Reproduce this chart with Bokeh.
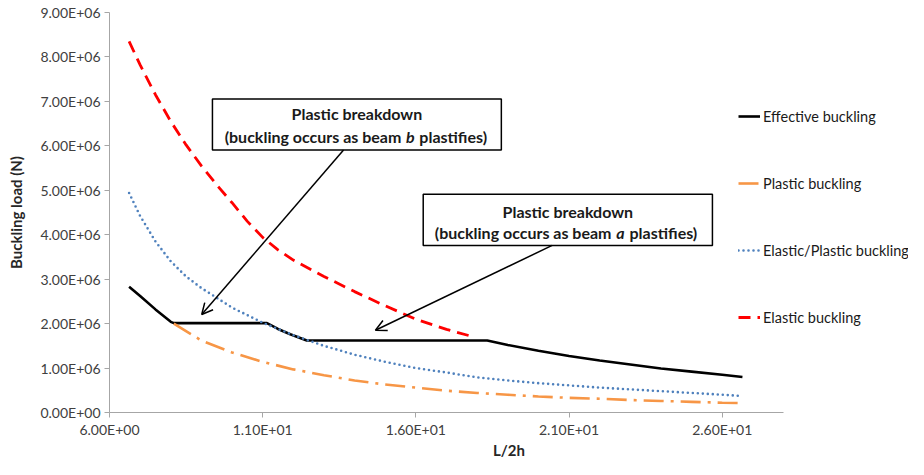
from bokeh.plotting import figure
from bokeh.models import (Legend, LegendItem, FixedTicker, BoxAnnotation, Label,
                          Arrow, OpenHead, Range1d)
from bokeh.embed import file_html
from bokeh.resources import INLINE

# ---------------- data ----------------
effective_x = [6.64, 7.0, 7.5, 8.0, 8.1, 11.14, 11.5, 11.9, 12.44, 18.33,
               19.0, 20.0, 21.0, 22.0, 23.0, 24.0, 25.0, 26.0, 26.66]
effective_y = [2.83e6, 2.62e6, 2.32e6, 2.04e6, 2.01e6, 2.01e6, 1.88e6, 1.76e6, 1.62e6, 1.62e6,
               1.52e6, 1.39e6, 1.27e6, 1.17e6, 1.08e6, 0.99e6, 0.92e6, 0.85e6, 0.80e6]

plastic_x = [8.1, 9.0, 10.0, 11.0, 12.0, 13.0, 14.0, 15.0, 16.0, 17.0, 18.0,
             19.0, 20.0, 21.0, 22.0, 23.0, 24.0, 25.0, 26.0, 26.66]
plastic_y = [2.0e6, 1.62e6, 1.35e6, 1.14e6, 0.97e6, 0.84e6, 0.72e6, 0.63e6, 0.56e6, 0.49e6, 0.44e6,
             0.40e6, 0.36e6, 0.33e6, 0.31e6, 0.28e6, 0.26e6, 0.24e6, 0.22e6, 0.21e6]

elastic_plastic_x = [6.64, 7.0, 7.5, 8.0, 8.5, 9.0, 9.5, 10.0, 11.0, 12.0, 13.0, 14.0, 15.0,
                     16.0, 17.0, 18.0, 19.0, 20.0, 21.0, 22.0, 23.0, 24.0, 25.0, 26.0, 26.66]
elastic_plastic_y = [4.94e6, 4.42e6, 3.85e6, 3.40e6, 3.06e6, 2.80e6, 2.58e6, 2.36e6, 2.02e6, 1.74e6,
                     1.50e6, 1.30e6, 1.14e6, 1.00e6, 0.90e6, 0.79e6, 0.72e6, 0.66e6, 0.61e6, 0.56e6,
                     0.52e6, 0.48e6, 0.44e6, 0.40e6, 0.37e6]

elastic_x = [6.64, 7.0, 7.5, 8.0, 8.5, 9.0, 9.5, 10.0, 10.5, 11.0, 11.5, 12.0, 13.0, 14.0,
             15.0, 16.0, 17.0, 17.94]
elastic_y = [8.35e6, 7.82e6, 7.15e6, 6.55e6, 6.02e6, 5.55e6, 5.12e6, 4.72e6, 4.30e6, 3.94e6,
             3.66e6, 3.43e6, 3.06e6, 2.72e6, 2.40e6, 2.10e6, 1.87e6, 1.69e6]

series_names = ["Effective buckling", "Plastic buckling", "Elastic/Plastic buckling", "Elastic buckling"]

x_ticks = [6, 11, 16, 21, 26]
x_tick_labels = ["6.00E+00", "1.10E+01", "1.60E+01", "2.10E+01", "2.60E+01"]
y_ticks = [0, 1000000, 2000000, 3000000, 4000000, 5000000, 6000000, 7000000, 8000000, 9000000]
y_tick_labels = ["0.00E+00", "1.00E+06", "2.00E+06", "3.00E+06", "4.00E+06",
                 "5.00E+06", "6.00E+06", "7.00E+06", "8.00E+06", "9.00E+06"]

x_label = "L/2h"
y_label = "Buckling load (N)"

# annotation callouts (data coordinates)
box_b = dict(left=9.36, right=18.79, bottom=5.907e6, top=7.053e6)
box_a = dict(left=16.24, right=25.68, bottom=3.76e6, top=4.908e6)
arrow_b = dict(x_start=13.64, y_start=5.907e6, x_end=9.01, y_end=2.205e6)
arrow_a = dict(x_start=20.45, y_start=3.76e6, x_end=14.68, y_end=1.85e6)

FONT = "Lato"

# ---------------- figure ----------------
# the frame runs to the right edge so the legend (drawn over the plot area, as in
# the original) is not clipped; the visible x axis line stops at 28
p = figure(frame_width=799, frame_height=400, output_backend="svg", toolbar_location=None,
           x_range=Range1d(6, 32.08), y_range=Range1d(0, 9000000),
           min_border_left=109, min_border_right=0, min_border_top=12, min_border_bottom=30)
p.outline_line_color = None
p.border_fill_color = "white"
p.grid.visible = False
p.background_fill_color = "white"

r_eff = p.line(effective_x, effective_y, line_color="black", line_width=2.6)
r_pla = p.line(plastic_x, plastic_y, line_color="#F79646", line_width=2.6, line_dash="20 7 3 7")
r_ep = p.line(elastic_plastic_x, elastic_plastic_y, line_color="#4F81BD", line_width=2.6,
              line_dash="0 5", line_cap="round")
r_el = p.line(elastic_x, elastic_y, line_color="#FF0000", line_width=2.8, line_dash="12 7")

# axes
for ax, ticks, labels in ((p.xaxis, x_ticks, x_tick_labels), (p.yaxis, y_ticks, y_tick_labels)):
    ax.ticker = FixedTicker(ticks=ticks)
    ax.major_label_overrides = {t: l for t, l in zip(ticks, labels)}
    ax.axis_line_color = "#a6a6a6"
    ax.major_tick_line_color = "#a6a6a6"
    ax.major_tick_out = 5
    ax.major_tick_in = 0
    ax.minor_tick_out = 0
    ax.minor_tick_in = 0
    ax.major_label_text_font = FONT
    ax.major_label_text_font_size = "14px"
    ax.major_label_text_color = "#404040"
    ax.axis_label_text_font = FONT
    ax.axis_label_text_font_size = "15px"
    ax.axis_label_text_font_style = "bold"
    ax.axis_label_text_color = "#262626"

p.xaxis.bounds = (6, 28)
p.xaxis.axis_label = x_label
p.yaxis.axis_label = y_label
p.xaxis.major_label_standoff = 3
p.xaxis.axis_label_standoff = 0
p.yaxis.major_label_standoff = 4
p.yaxis.axis_label_standoff = 12

# legend
legend = Legend(items=[LegendItem(label=n, renderers=[r]) for n, r in
                       zip(series_names, [r_eff, r_pla, r_ep, r_el])],
                location=(629, 85), orientation="vertical", spacing=47,
                glyph_width=22, glyph_height=20, label_height=20, label_standoff=3,
                padding=0, margin=0, border_line_alpha=0, background_fill_alpha=0,
                label_text_font=FONT, label_text_font_size="14.5px", label_text_color="#1a1a1a")
p.add_layout(legend)

# callouts
for b in (box_b, box_a):
    p.add_layout(BoxAnnotation(fill_color="white", fill_alpha=1.0, line_color="black",
                               line_alpha=1.0, line_width=1.5, **b))


def callout(box, line1_y, line2_y, italic_char, anchor_x, left_text, right_text):
    cx = (box["left"] + box["right"]) / 2
    common = dict(text_font=FONT, text_font_size="16px", text_color="#1a1a1a",
                  text_baseline="middle")
    p.add_layout(Label(x=cx, y=line1_y, text="Plastic breakdown", text_align="center",
                       text_font_style="bold", **common))
    p.add_layout(Label(x=anchor_x, y=line2_y, text=left_text, text_align="right",
                       x_offset=-9, text_font_style="bold", **common))
    p.add_layout(Label(x=anchor_x, y=line2_y, text=italic_char, text_align="center",
                       text_font_style="bold italic", **common))
    p.add_layout(Label(x=anchor_x, y=line2_y, text=right_text, text_align="left",
                       x_offset=9, text_font_style="bold", **common))


callout(box_b, 6.72e6, 6.218e6, "b", 15.82, "(buckling occurs as beam", "plastifies)")
callout(box_a, 4.533e6, 4.055e6, "a", 22.68, "(buckling occurs as beam", "plastifies)")

for a in (arrow_b, arrow_a):
    p.add_layout(Arrow(end=OpenHead(size=11, line_width=1.5, line_color="black"),
                       line_color="black", line_width=1.5, **a))

open("out.html", "w").write(file_html(p, INLINE))
